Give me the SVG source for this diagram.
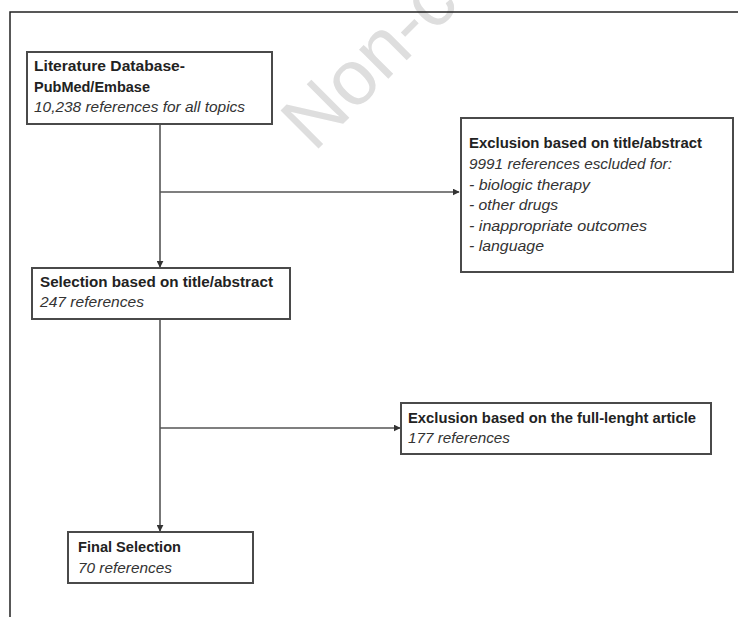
<svg xmlns="http://www.w3.org/2000/svg" width="738" height="617" viewBox="0 0 738 617">
<style>
.box{fill:#fff;stroke:#4a4a4a;stroke-width:2}
.t{font-family:"Liberation Sans",Arial,sans-serif;font-size:14px;fill:#222}
.b{font-weight:bold}
.i{font-style:italic;fill:#333}
.c{stroke:#555;stroke-width:1.6;fill:none}
.wm{font-family:"Liberation Sans",Arial,sans-serif;font-size:78px;fill:#dedede}
</style>
<defs>
<marker id="ah" viewBox="0 0 10 10" refX="9" refY="5" markerWidth="7" markerHeight="7" markerUnits="userSpaceOnUse" orient="auto">
<path d="M0,0 L10,5 L0,10 z" fill="#333"/>
</marker>
</defs>
<rect width="738" height="617" fill="#fff"/>
<text class="wm" x="0" y="0" transform="translate(314,153) rotate(-45)">Non-c</text>
<g id="frame">
<path d="M10,617 V12 H738" stroke="#222" stroke-width="1.5" fill="none"/>
</g>
<g id="connectors">
<line class="c" x1="160" y1="124" x2="160" y2="267" marker-end="url(#ah)"/>
<line class="c" x1="160" y1="192" x2="459" y2="192" marker-end="url(#ah)"/>
<line class="c" x1="160" y1="319" x2="160" y2="531" marker-end="url(#ah)"/>
<line class="c" x1="160" y1="428" x2="400" y2="428" marker-end="url(#ah)"/>
</g>
<g id="n1">
<rect class="box" x="27" y="52" width="245" height="72"/>
<text class="t b" x="34" y="71" textLength="151" lengthAdjust="spacingAndGlyphs">Literature Database-</text>
<text class="t b" x="34" y="92" textLength="116" lengthAdjust="spacingAndGlyphs">PubMed/Embase</text>
<text class="t i" x="34" y="112" textLength="211" lengthAdjust="spacingAndGlyphs">10,238 references for all topics</text>
</g>
<g id="n2">
<rect class="box" x="461" y="118" width="272" height="154"/>
<text class="t b" x="469" y="148" textLength="233" lengthAdjust="spacingAndGlyphs">Exclusion based on title/abstract</text>
<text class="t i" x="469" y="169" textLength="203" lengthAdjust="spacingAndGlyphs">9991 references escluded for:</text>
<text class="t i" x="469" y="190" textLength="121" lengthAdjust="spacingAndGlyphs">- biologic therapy</text>
<text class="t i" x="469" y="210" textLength="89" lengthAdjust="spacingAndGlyphs">- other drugs</text>
<text class="t i" x="469" y="231" textLength="178" lengthAdjust="spacingAndGlyphs">- inappropriate outcomes</text>
<text class="t i" x="469" y="251" textLength="75" lengthAdjust="spacingAndGlyphs">- language</text>
</g>
<g id="n3">
<rect class="box" x="32" y="268" width="258" height="51"/>
<text class="t b" x="40" y="287" textLength="233" lengthAdjust="spacingAndGlyphs">Selection based on title/abstract</text>
<text class="t i" x="40" y="307" textLength="104" lengthAdjust="spacingAndGlyphs">247 references</text>
</g>
<g id="n4">
<rect class="box" x="401" y="403" width="310" height="51"/>
<text class="t b" x="408" y="423" textLength="288" lengthAdjust="spacingAndGlyphs">Exclusion based on the full-lenght article</text>
<text class="t i" x="408" y="443" textLength="102" lengthAdjust="spacingAndGlyphs">177 references</text>
</g>
<g id="n5">
<rect class="box" x="68" y="532" width="185" height="51"/>
<text class="t b" x="78" y="552" textLength="103" lengthAdjust="spacingAndGlyphs">Final Selection</text>
<text class="t i" x="78" y="573" textLength="94" lengthAdjust="spacingAndGlyphs">70 references</text>
</g>
</svg>
